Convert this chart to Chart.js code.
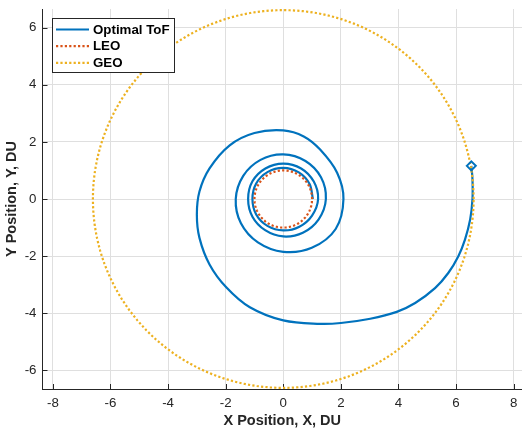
<!DOCTYPE html>
<html>
<head>
<meta charset="utf-8">
<script src="https://cdn.jsdelivr.net/npm/chart.js@4/dist/chart.umd.min.js"></script>
<style>
  html, body { margin: 0; padding: 0; background: #fff; }
</style>
</head>
<body>
<canvas id="myChart" width="522" height="434"></canvas>
<script>
// 軌道データ (DU)
var spiralX = [1.03, 0.91, 0.54, 0.00, -0.55, -0.94, -1.07, -0.94, -0.55, 0.00, 0.56, 1.00,
               1.21, 1.06, 0.62, 0.00, -0.62, -1.07, -1.22, -1.07, -0.63, 0.00, 0.68, 1.23,
               1.48, 1.31, 0.77, 0.00, -0.79, -1.39, -1.65, -1.47, -0.88, 0.00, 0.99, 1.82,
               2.09, 1.87, 1.28, 0.71, 0.00, -1.00, -1.86, -2.56, -2.91, -3.00,
               -2.91, -2.56, -1.98, -1.16, 0.00, 1.28, 2.00, 3.02, 3.94, 4.58,
               5.27, 5.73, 6.08, 6.31, 6.49, 6.57, 6.57, 6.53];
var spiralY = [0.00, 0.53, 0.93, 1.09, 0.94, 0.54, 0.00, -0.54, -0.94, -1.10, -0.97, -0.58,
               0.00, 0.61, 1.07, 1.24, 1.07, 0.62, 0.00, -0.62, -1.09, -1.31, -1.18, -0.71,
               0.00, 0.76, 1.33, 1.56, 1.37, 0.81, 0.00, -0.85, -1.52, -1.85, -1.71, -1.05,
               0.00, 0.92, 1.73, 2.19, 2.40, 2.31, 1.88, 1.07, 0.26, -0.55,
               -1.36, -2.29, -3.09, -3.79, -4.25, -4.37, -4.34, -4.19, -3.95, -3.64,
               -3.12, -2.59, -2.00, -1.42, -0.72, 0.00, 0.70, 1.16];
var endX = [6.53];
var endY = [1.16];
var leoRadius = 1.0;
var geoRadius = 6.61;
var xTicks = [-8, -6, -4, -2, 0, 2, 4, 6, 8];
var yTicks = [-6, -4, -2, 0, 2, 4, 6];

var FONT = "'Liberation Sans', Arial, Helvetica, sans-serif";
var DARK = '#262626';

function toPoints(xs, ys) {
  var pts = [];
  for (var i = 0; i < xs.length; ++i) pts.push({ x: xs[i], y: ys[i] });
  return pts;
}

// 円軌道
function circlePoints(r) {
  var pts = [];
  for (var d = 0; d <= 360; d += 2) {
    var a = d * Math.PI / 180;
    pts.push({ x: r * Math.cos(a), y: r * Math.sin(a) });
  }
  return pts;
}

// 内向きの目盛り
var tickMarks = {
  id: 'tickMarks',
  beforeDatasetsDraw: function(chart) {
    var ctx = chart.ctx, a = chart.chartArea;
    var xs = chart.scales.x, ys = chart.scales.y;
    ctx.save();
    ctx.strokeStyle = DARK;
    ctx.lineWidth = 1;
    ctx.beginPath();
    xTicks.forEach(function(v) {
      var px = Math.round(xs.getPixelForValue(v)) + 0.5;
      ctx.moveTo(px, a.bottom);
      ctx.lineTo(px, a.bottom - 5);
    });
    yTicks.forEach(function(v) {
      var py = Math.round(ys.getPixelForValue(v)) + 0.5;
      ctx.moveTo(a.left, py);
      ctx.lineTo(a.left + 5, py);
    });
    ctx.stroke();
    ctx.restore();
  }
};

// 凡例 (プロット内左上)
var boxLegend = {
  id: 'boxLegend',
  afterDraw: function(chart) {
    var ctx = chart.ctx;
    var items = [0, 1, 2];
    ctx.save();
    ctx.fillStyle = '#fff';
    ctx.fillRect(52, 18, 123, 55);
    ctx.strokeStyle = DARK;
    ctx.lineWidth = 1;
    ctx.strokeRect(52.5, 18.5, 122, 54);
    ctx.font = 'bold 13.3px ' + FONT;
    ctx.textBaseline = 'middle';
    items.forEach(function(idx, i) {
      var ds = chart.data.datasets[idx];
      var y = 29.5 + i * 16.7;
      ctx.strokeStyle = ds.borderColor;
      ctx.lineWidth = ds.borderWidth;
      ctx.setLineDash(ds.borderDash || []);
      ctx.beginPath();
      ctx.moveTo(56, y);
      ctx.lineTo(89, y);
      ctx.stroke();
      ctx.setLineDash([]);
      ctx.fillStyle = '#000';
      ctx.fillText(ds.label, 93, y + 0.5);
    });
    ctx.restore();
  }
};

var ctx = document.getElementById('myChart').getContext('2d');
var myChart = new Chart(ctx, {
  type: 'line',
  data: {
    datasets: [
      { label: 'Optimal ToF', data: toPoints(spiralX, spiralY), tension: 0.36,
        borderColor: '#0072BD', borderWidth: 2.2, pointRadius: 0, fill: false, order: 3 },
      { label: 'LEO', data: circlePoints(leoRadius), tension: 0,
        borderColor: '#D95319', borderWidth: 2.2, borderDash: [2.2, 2.2], pointRadius: 0, fill: false, order: 2 },
      { label: 'GEO', data: circlePoints(geoRadius), tension: 0,
        borderColor: '#EDB120', borderWidth: 2.2, borderDash: [2.2, 2.2], pointRadius: 0, fill: false, order: 1 },
      { label: 'end', data: toPoints(endX, endY), showLine: false,
        pointStyle: 'rectRot', pointRadius: 4.5, pointBorderWidth: 2,
        pointBorderColor: '#0072BD', pointBackgroundColor: 'rgba(255,255,255,0)', order: 0 }
    ]
  },
  options: {
    responsive: false,
    animation: false,
    devicePixelRatio: 1,
    layout: { autoPadding: false, padding: { top: 9, right: 0, bottom: 0, left: 0 } },
    plugins: { legend: { display: false }, tooltip: { enabled: false } },
    scales: {
      x: {
        type: 'linear', position: 'bottom', min: -8.36, max: 8.29,
        afterBuildTicks: function(s) { s.ticks = xTicks.map(function(v) { return { value: v }; }); },
        afterFit: function(s) { s.height = 45; s.paddingLeft = 0; s.paddingRight = 0; },
        ticks: { autoSkip: false, maxRotation: 0, padding: 6, color: DARK,
                 font: { family: FONT, size: 13.3 } },
        grid: { color: '#dfdfdf', drawTicks: false },
        border: { color: DARK, width: 1 },
        title: { display: true, text: 'X Position, X, DU', color: DARK,
                 font: { family: FONT, size: 14.5, weight: 'bold' }, padding: { top: 0, bottom: 4.5 } }
      },
      y: {
        type: 'linear', position: 'left', min: -6.65, max: 6.65,
        afterBuildTicks: function(s) { s.ticks = yTicks.map(function(v) { return { value: v }; }); },
        afterFit: function(s) { s.width = 42.5; s.paddingTop = 0; s.paddingBottom = 0; },
        ticks: { autoSkip: false, padding: 6, color: DARK,
                 font: { family: FONT, size: 13.3 } },
        grid: { color: '#dfdfdf', drawTicks: false },
        border: { color: DARK, width: 1 },
        title: { display: true, text: 'Y Position, Y, DU', color: DARK,
                 font: { family: FONT, size: 14.5, weight: 'bold' }, padding: { top: 3.5, bottom: 0 } }
      }
    }
  },
  plugins: [tickMarks, boxLegend]
});
</script>
</body>
</html>
